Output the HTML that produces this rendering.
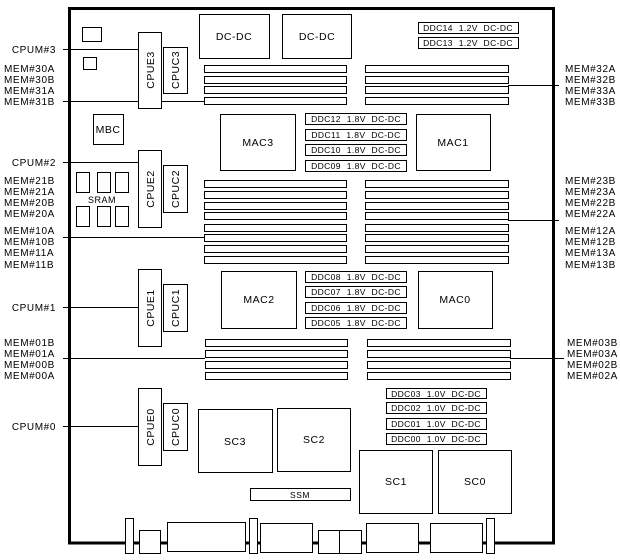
<!DOCTYPE html>
<html><head><meta charset="utf-8"><style>
html,body{margin:0;padding:0;background:#fff;}
svg{display:block;}
text{font-family:"Liberation Sans",sans-serif;fill:#000;}
.l{font-size:10px;letter-spacing:0.6px;}
.d{font-size:8.5px;letter-spacing:0.4px;word-spacing:3px;}
.b{font-size:10.5px;letter-spacing:0.5px;}
</style></head><body>
<svg width="620" height="560" viewBox="0 0 620 560" xmlns="http://www.w3.org/2000/svg">
<g fill="#fff" stroke="#000" stroke-width="1">
<path d="M69.5 543 L69.5 8.5 L553.5 8.5 L553.5 543 Z" fill="none" stroke-width="3"/>
<line x1="63" y1="49.5" x2="138" y2="49.5"/>
<line x1="63" y1="101.5" x2="204" y2="101.5"/>
<line x1="508" y1="85.5" x2="559" y2="85.5"/>
<line x1="63" y1="162.5" x2="138" y2="162.5"/>
<line x1="63" y1="237.5" x2="204" y2="237.5"/>
<line x1="508" y1="220.5" x2="559" y2="220.5"/>
<line x1="63" y1="307.5" x2="138" y2="307.5"/>
<line x1="63" y1="358.5" x2="205" y2="358.5"/>
<line x1="510" y1="358.5" x2="564" y2="358.5"/>
<line x1="63" y1="426.5" x2="138" y2="426.5"/>
<rect x="82.5" y="27.5" width="19" height="14"/>
<rect x="83.5" y="57.5" width="13" height="12"/>
<rect x="138.5" y="32.5" width="23" height="76"/>
<rect x="163.5" y="47.5" width="24" height="46"/>
<rect x="138.5" y="150.5" width="23" height="77"/>
<rect x="163.5" y="165.5" width="24" height="47"/>
<rect x="138.5" y="269.5" width="23" height="77"/>
<rect x="163.5" y="284.5" width="24" height="47"/>
<rect x="138.5" y="388.5" width="23" height="77"/>
<rect x="163.5" y="403.5" width="24" height="47"/>
<rect x="199.5" y="14.5" width="70" height="44"/>
<rect x="282.5" y="14.5" width="69" height="44"/>
<rect x="418.5" y="22.5" width="100" height="11"/>
<rect x="418.5" y="37.5" width="100" height="11"/>
<rect x="204.5" y="65.5" width="142" height="7"/><rect x="365.5" y="65.5" width="143" height="7"/>
<rect x="204.5" y="76.5" width="142" height="7"/><rect x="365.5" y="76.5" width="143" height="7"/>
<rect x="204.5" y="86.5" width="142" height="7"/><rect x="365.5" y="86.5" width="143" height="7"/>
<rect x="204.5" y="97.5" width="142" height="7"/><rect x="365.5" y="97.5" width="143" height="7"/>
<rect x="93.5" y="114.5" width="30" height="30"/>
<rect x="220.5" y="114.5" width="75" height="56"/>
<rect x="416.5" y="114.5" width="74" height="56"/>
<rect x="305.5" y="113.5" width="101" height="11"/>
<rect x="305.5" y="129.5" width="101" height="11"/>
<rect x="305.5" y="144.5" width="101" height="11"/>
<rect x="305.5" y="160.5" width="101" height="11"/>
<rect x="76.5" y="172.5" width="13" height="20"/><rect x="97.5" y="172.5" width="13" height="20"/><rect x="115.5" y="172.5" width="13" height="20"/>
<rect x="76.5" y="206.5" width="13" height="20"/><rect x="97.5" y="206.5" width="13" height="20"/><rect x="115.5" y="206.5" width="13" height="20"/>
<rect x="204.5" y="180.5" width="142" height="7"/><rect x="365.5" y="180.5" width="143" height="7"/>
<rect x="204.5" y="191.5" width="142" height="7"/><rect x="365.5" y="191.5" width="143" height="7"/>
<rect x="204.5" y="202.5" width="142" height="7"/><rect x="365.5" y="202.5" width="143" height="7"/>
<rect x="204.5" y="212.5" width="142" height="7"/><rect x="365.5" y="212.5" width="143" height="7"/>
<rect x="204.5" y="224.5" width="142" height="7"/><rect x="365.5" y="224.5" width="143" height="7"/>
<rect x="204.5" y="234.5" width="142" height="7"/><rect x="365.5" y="234.5" width="143" height="7"/>
<rect x="204.5" y="245.5" width="142" height="7"/><rect x="365.5" y="245.5" width="143" height="7"/>
<rect x="204.5" y="256.5" width="142" height="7"/><rect x="365.5" y="256.5" width="143" height="7"/>
<rect x="221.5" y="271.5" width="75" height="57"/>
<rect x="418.5" y="271.5" width="74" height="57"/>
<rect x="305.5" y="271.5" width="101" height="11"/>
<rect x="305.5" y="286.5" width="101" height="11"/>
<rect x="305.5" y="302.5" width="101" height="11"/>
<rect x="305.5" y="317.5" width="101" height="11"/>
<rect x="205.5" y="339.5" width="142" height="7"/><rect x="367.5" y="339.5" width="143" height="7"/>
<rect x="205.5" y="350.5" width="142" height="7"/><rect x="367.5" y="350.5" width="143" height="7"/>
<rect x="205.5" y="361.5" width="142" height="7"/><rect x="367.5" y="361.5" width="143" height="7"/>
<rect x="205.5" y="372.5" width="142" height="7"/><rect x="367.5" y="372.5" width="143" height="7"/>
<rect x="386.5" y="388.5" width="100" height="10"/>
<rect x="386.5" y="402.5" width="100" height="11"/>
<rect x="386.5" y="418.5" width="100" height="11"/>
<rect x="386.5" y="433.5" width="100" height="11"/>
<rect x="198.5" y="409.5" width="74" height="63"/>
<rect x="277.5" y="408.5" width="73" height="63"/>
<rect x="359.5" y="450.5" width="73" height="63"/>
<rect x="438.5" y="450.5" width="73" height="63"/>
<rect x="250.5" y="488.5" width="100" height="12"/>
<rect x="125.5" y="518.5" width="8" height="35"/>
<rect x="139.5" y="530.5" width="21" height="23"/>
<rect x="167.5" y="522.5" width="78" height="29"/>
<rect x="249.5" y="518.5" width="8" height="35"/>
<rect x="260.5" y="523.5" width="52" height="29"/>
<rect x="318.5" y="530.5" width="43" height="23"/>
<line x1="339.5" y1="530" x2="339.5" y2="553"/>
<rect x="366.5" y="523.5" width="52" height="29"/>
<rect x="430.5" y="523.5" width="52" height="29"/>
<rect x="486.5" y="518.5" width="8" height="35"/>
</g>
<g class="l" text-anchor="end">
<text x="56" y="53">CPUM#3</text>
<text x="56" y="166">CPUM#2</text>
<text x="56" y="311">CPUM#1</text>
<text x="56" y="430">CPUM#0</text>
</g>
<g class="l">
<text x="4" y="72">MEM#30A</text><text x="4" y="83">MEM#30B</text><text x="4" y="94">MEM#31A</text><text x="4" y="105">MEM#31B</text>
<text x="4" y="184">MEM#21B</text><text x="4" y="195">MEM#21A</text><text x="4" y="206">MEM#20B</text><text x="4" y="217">MEM#20A</text>
<text x="4" y="234">MEM#10A</text><text x="4" y="245">MEM#10B</text><text x="4" y="256">MEM#11A</text><text x="4" y="268">MEM#11B</text>
<text x="4" y="346">MEM#01B</text><text x="4" y="357">MEM#01A</text><text x="4" y="368">MEM#00B</text><text x="4" y="379">MEM#00A</text>
<text x="565" y="72">MEM#32A</text><text x="565" y="83">MEM#32B</text><text x="565" y="94">MEM#33A</text><text x="565" y="105">MEM#33B</text>
<text x="565" y="184">MEM#23B</text><text x="565" y="195">MEM#23A</text><text x="565" y="206">MEM#22B</text><text x="565" y="217">MEM#22A</text>
<text x="565" y="234">MEM#12A</text><text x="565" y="245">MEM#12B</text><text x="565" y="256">MEM#13A</text><text x="565" y="268">MEM#13B</text>
<text x="567" y="346">MEM#03B</text><text x="567" y="357">MEM#03A</text><text x="567" y="368">MEM#02B</text><text x="567" y="379">MEM#02A</text>
</g>
<g class="b" text-anchor="middle">
<text transform="translate(154,70) rotate(-90)">CPUE3</text>
<text transform="translate(179,70) rotate(-90)">CPUC3</text>
<text transform="translate(154,189) rotate(-90)">CPUE2</text>
<text transform="translate(179,189) rotate(-90)">CPUC2</text>
<text transform="translate(154,308) rotate(-90)">CPUE1</text>
<text transform="translate(179,308) rotate(-90)">CPUC1</text>
<text transform="translate(154,427) rotate(-90)">CPUE0</text>
<text transform="translate(179,427) rotate(-90)">CPUC0</text>
</g>
<g class="b" text-anchor="middle">
<text x="234" y="40">DC-DC</text>
<text x="317" y="40">DC-DC</text>
<text x="108" y="133">MBC</text>
<text x="258" y="146">MAC3</text>
<text x="453" y="146">MAC1</text>
<text x="259" y="303">MAC2</text>
<text x="455" y="303">MAC0</text>
<text x="102" y="203" style="font-size:9px">SRAM</text>
<text x="235" y="445">SC3</text>
<text x="314" y="443">SC2</text>
<text x="396" y="485">SC1</text>
<text x="475" y="485">SC0</text>
<text x="300" y="498" style="font-size:8.5px">SSM</text>
</g>
<g class="d" text-anchor="middle">
<text x="468" y="31">DDC14 1.2V DC-DC</text>
<text x="468" y="46">DDC13 1.2V DC-DC</text>
<text x="356" y="122">DDC12 1.8V DC-DC</text>
<text x="356" y="138">DDC11 1.8V DC-DC</text>
<text x="356" y="153">DDC10 1.8V DC-DC</text>
<text x="356" y="169">DDC09 1.8V DC-DC</text>
<text x="356" y="280">DDC08 1.8V DC-DC</text>
<text x="356" y="295">DDC07 1.8V DC-DC</text>
<text x="356" y="311">DDC06 1.8V DC-DC</text>
<text x="356" y="326">DDC05 1.8V DC-DC</text>
<text x="436" y="397">DDC03 1.0V DC-DC</text>
<text x="436" y="411">DDC02 1.0V DC-DC</text>
<text x="436" y="427">DDC01 1.0V DC-DC</text>
<text x="436" y="442">DDC00 1.0V DC-DC</text>
</g>
</svg>
</body></html>
